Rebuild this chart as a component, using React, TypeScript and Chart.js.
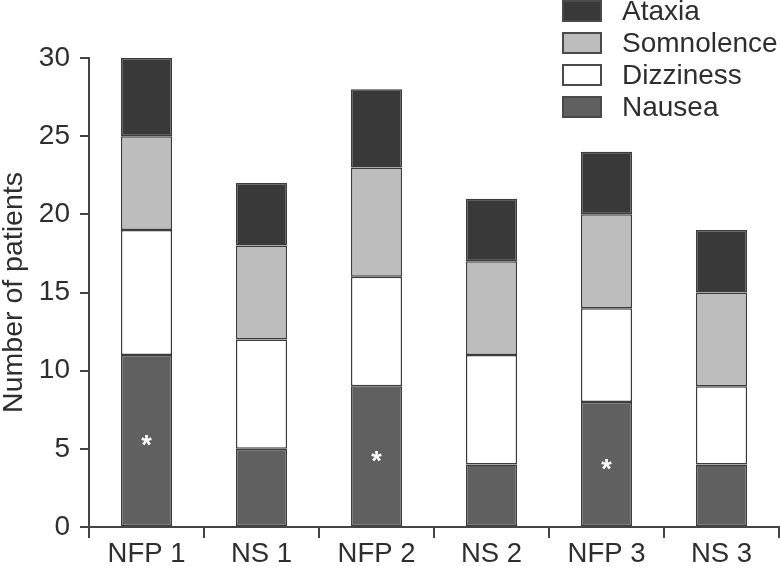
import React, { useEffect, useRef } from "react";
import { Chart, registerables } from "chart.js";

Chart.register(...registerables);

const categories = ["NFP 1", "NS 1", "NFP 2", "NS 2", "NFP 3", "NS 3"];
const nausea = [11, 5, 9, 4, 8, 4];
const dizziness = [8, 7, 7, 7, 6, 5];
const somnolence = [6, 6, 7, 6, 6, 6];
const ataxia = [5, 4, 5, 4, 4, 4];
const markers = ["*", "", "*", "", "*", ""];
const yTicks = [0, 5, 10, 15, 20, 25, 30];

const FONT = "'Liberation Sans', Arial, sans-serif";
const TEXT = "#2e2e2e";
const EDGE = "#3c3c3c";

const seriesDefs = [
  { label: "Nausea", data: nausea, color: "#606060" },
  { label: "Dizziness", data: dizziness, color: "#ffffff" },
  { label: "Somnolence", data: somnolence, color: "#bdbdbd" },
  { label: "Ataxia", data: ataxia, color: "#393939" },
];

const overlayPlugin = {
  id: "overlay",
  afterDraw(chart: any) {
    const ctx = chart.ctx;
    const xs = chart.scales.x;
    const ys = chart.scales.y;
    ctx.save();
    // asterisks
    ctx.fillStyle = "#ffffff";
    ctx.font = `bold 27px ${FONT}`;
    ctx.textAlign = "center";
    ctx.textBaseline = "middle";
    markers.forEach((m, i) => {
      if (!m) return;
      const x = xs.getPixelForValue(i);
      const y = ys.getPixelForValue(nausea[i] / 2);
      ctx.fillText(m, x, y + 6);
    });
    // legend
    const legendOrder = [...seriesDefs].reverse();
    ctx.font = `28px ${FONT}`;
    ctx.textAlign = "left";
    ctx.textBaseline = "middle";
    legendOrder.forEach((s, i) => {
      const top = 1 + i * 32;
      ctx.fillStyle = s.color;
      ctx.fillRect(563, top, 38, 20);
      ctx.strokeStyle = "#4a4a4a";
      ctx.lineWidth = 2;
      ctx.strokeRect(563, top, 38, 20);
      ctx.fillStyle = TEXT;
      ctx.fillText(s.label, 622, top + 11);
    });
    ctx.restore();
  },
};

export default function App() {
  const ref = useRef<HTMLCanvasElement | null>(null);
  useEffect(() => {
    document.body.style.margin = "0";
    const canvas = ref.current!;
    const chart = new Chart(canvas, {
      type: "bar",
      data: {
        labels: categories,
        datasets: seriesDefs.map((s) => ({
          label: s.label,
          data: s.data,
          backgroundColor: s.color,
          borderColor: EDGE,
          borderWidth: 1.5,
          borderSkipped: false,
          barPercentage: 0.445,
          categoryPercentage: 1,
        })),
      },
      options: {
        animation: false,
        responsive: false,
        layout: { padding: { top: 58, right: 1, left: 0, bottom: 0 } },
        plugins: { legend: { display: false }, tooltip: { enabled: false } },
        scales: {
          x: {
            stacked: true,
            afterFit: (s: any) => {
              s.height = 39;
            },
            grid: {
              offset: true,
              drawOnChartArea: false,
              drawTicks: true,
              tickLength: 11,
              color: "#444",
              lineWidth: 2,
            },
            border: { display: true, color: "#444", width: 2 },
            ticks: {
              color: TEXT,
              font: { family: FONT, size: 27.5, lineHeight: 1 },
              padding: 3,
              maxRotation: 0,
            },
          },
          y: {
            stacked: true,
            min: 0,
            max: 30,
            afterFit: (s: any) => {
              s.width = 89;
            },
            afterBuildTicks: (s: any) => {
              s.ticks = yTicks.map((v) => ({ value: v }));
            },
            grid: {
              drawOnChartArea: false,
              drawTicks: true,
              tickLength: 9,
              color: "#444",
              lineWidth: 2,
            },
            border: { display: true, color: "#444", width: 2 },
            ticks: {
              color: TEXT,
              font: { family: FONT, size: 28, lineHeight: 1 },
              padding: 10,
            },
            title: {
              display: true,
              text: "Number of patients",
              color: TEXT,
              font: { family: FONT, size: 28.5, lineHeight: 1 },
              padding: 0,
            },
          },
        },
      },
      plugins: [overlayPlugin],
    });
    return () => chart.destroy();
  }, []);
  return (
    <div style={{ position: "absolute", left: 0, top: 0, width: 780, height: 566 }}>
      <canvas ref={ref} width={780} height={566} style={{ width: 780, height: 566 }} />
    </div>
  );
}
